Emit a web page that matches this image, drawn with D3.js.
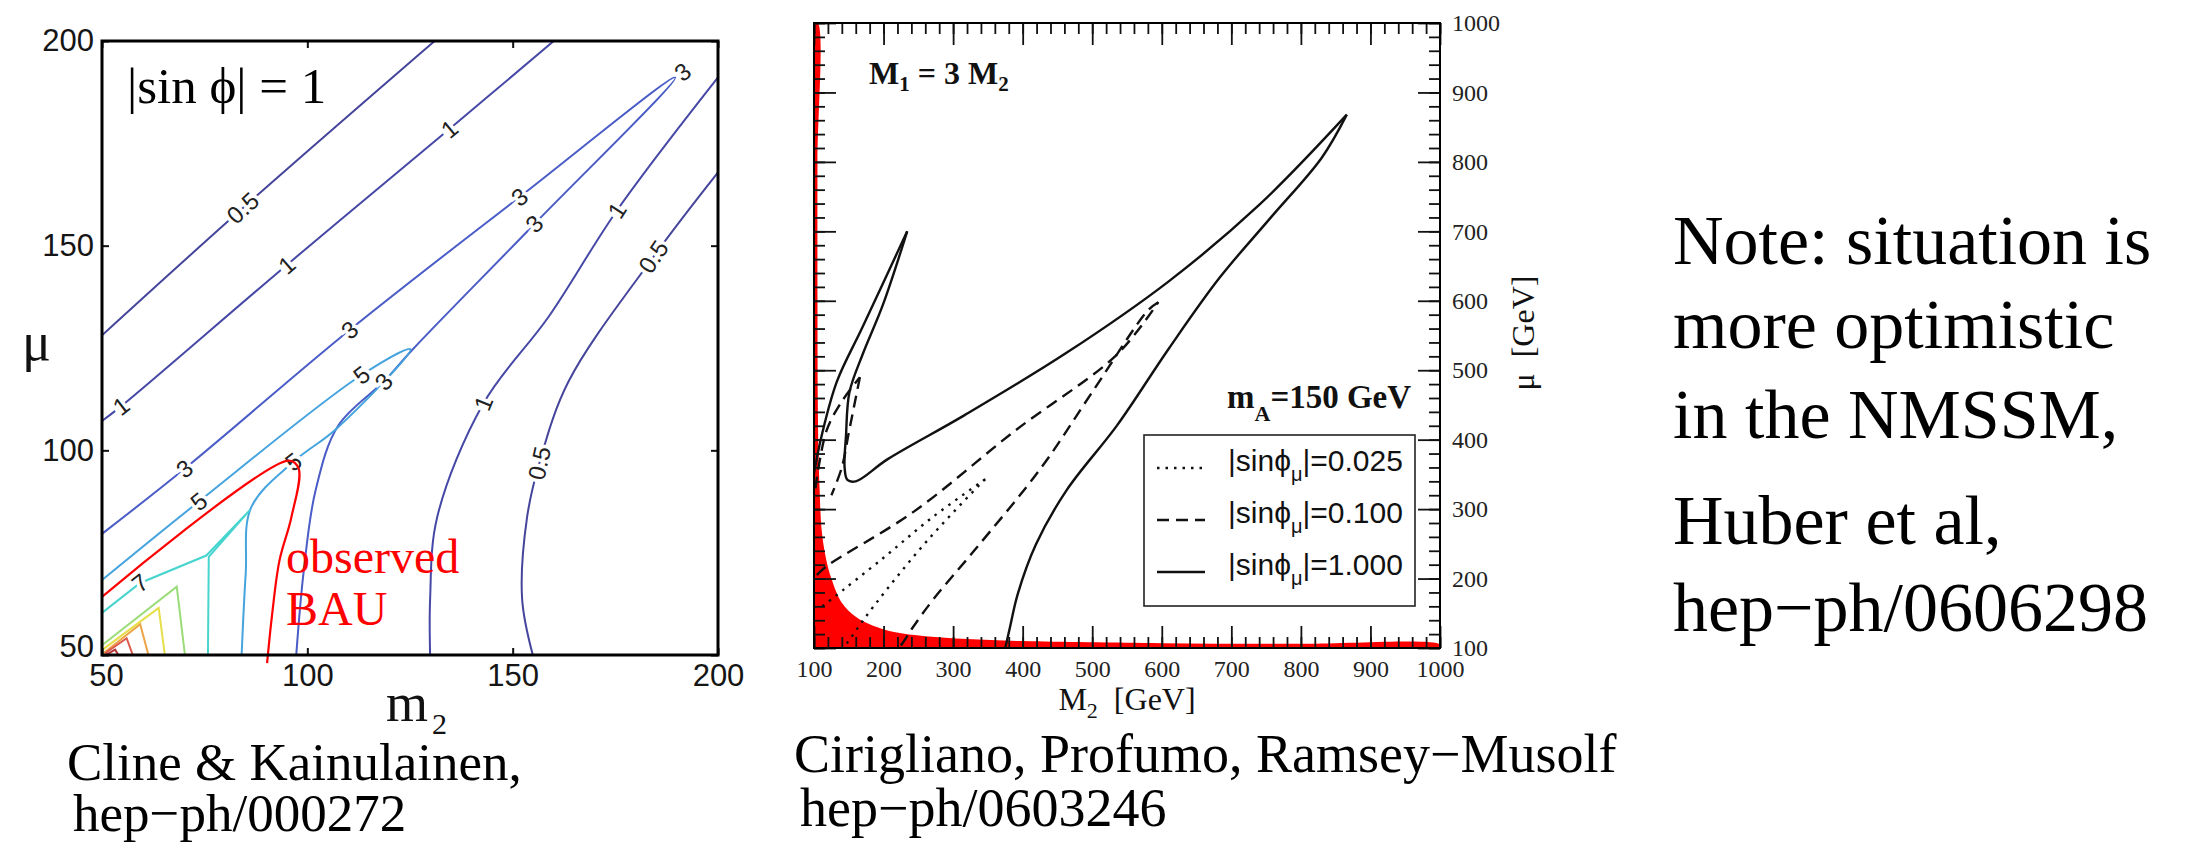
<!DOCTYPE html>
<html>
<head>
<meta charset="utf-8">
<script src="https://cdnjs.cloudflare.com/ajax/libs/d3/7.8.5/d3.min.js"></script>
<style>
  body { margin: 0; background: #fff; }
  svg { display: block; }
  .serif { font-family: "Liberation Serif", "Times New Roman", serif; }
  .sans { font-family: "Liberation Sans", Arial, sans-serif; }
</style>
</head>
<body>
<div id="chart"></div>
<script>
// ---------------- data: left panel (m2, mu) ----------------
const leftTicks = [50, 100, 150, 200];

const contour05a = [[50,128.1],[84.3,159.2],[131,200]];
const contour1a  = [[50,107.2],[54.7,110.8],[95,145.3],[134.6,178.5],[160,200]];
const contour3   = [[50,79.6],[70.1,95.5],[110.3,129.4],[151.7,161.9],[189.6,191.1],[155.3,155.3],
                    [125.7,124.7],[118.6,116.8],[107.5,106],[102,90.2],[99.1,70.3],[97.3,50]];
const contour5   = [[50,68.3],[73.6,87.5],[113.2,118.4],[125.1,124.7],[107.1,105.3],[96.6,97.2],
                    [86.3,86],[85,70],[84,50]];
const contour7   = [[50,60.3],[59.3,67.6],[75.4,74.3],[86,85.4],[76,74],[75.8,50]];
const contour9   = [[50,52.4],[68.2,66.7],[70.2,50]];
const contour11  = [[50,51.2],[63.8,61.5],[65.3,50]];
const contour13  = [[50.2,50.3],[59.3,57.5],[61.3,50]];
const contour15  = [[50.7,50.4],[56,54.1],[57.5,50]];
const contour17  = [[51.1,50.1],[53.2,51.3],[54,50]];
const contour1b  = [[129.9,50],[129.9,63.7],[131.6,83.6],[142.9,111.5],[158.8,132.7],[175.4,158.6],[200,191.1]];
const contour05b = [[154.9,50],[152.3,63.7],[153.5,83.6],[156.5,96.9],[163.6,116.8],[184.3,147.3],[200,167.9]];
const bauCurve   = [[50,64.2],[95.5,97.5],[97.9,95.5],[96.1,83.6],[93.2,73],[91.4,59.7],[90.2,48]];

// level, points, smooth
const leftContours = [
  ['0.5', contour05a, true], ['1', contour1a, true], ['3', contour3, true],
  ['5', contour5, true], ['7', contour7, false], ['9', contour9, false],
  ['11', contour11, false], ['13', contour13, false], ['15', contour15, false],
  ['17', contour17, false], ['1', contour1b, true], ['0.5', contour05b, true]
];

// contour index, m2, mu
const leftLabels = [
  [0, 84.3, 159.2],
  [1, 54.7, 110.8], [1, 95, 145.3], [1, 134.6, 178.5],
  [2, 70.1, 95.5], [2, 110.3, 129.4], [2, 151.7, 161.9], [2, 191.4, 192.4], [2, 155.3, 155.3], [2, 118.6, 116.8],
  [3, 73.6, 87.5], [3, 113.2, 118.4], [3, 96.6, 97.2],
  [4, 59.3, 67.6],
  [10, 142.9, 111.5], [10, 175.4, 158.6],
  [11, 156.5, 96.9], [11, 184.3, 147.3]
];

const levelColors = {
  '0.5': '#44459b', '1': '#4648a6', '3': '#4a5cc6', '5': '#45a3de', '7': '#47d4cf',
  '9': '#9bdc78', '11': '#e6df4a', '13': '#eda446', '15': '#dc5a4c', '17': '#b23838'
};

// ---------------- data: right panel (M2, mu) ----------------
const rightMajor = d3.range(100, 1001, 100);
const rightMinor = d3.range(100, 1001, 20);

const redEdge = [[100,1000],[105.5,1000],[105,800],[105,600],[105.5,450],[106.5,380],[108,330],[111,270],
                 [117,230],[125,200],[140,165],[160,145],[185,132],[215,123],[260,117],[320,113],
                 [400,110],[600,107],[800,106],[1000,105],[1000,100],[100,100]];

// |sin phi| = 1.000, split at the sharp tips
const solidOuter = [[100,352],[112,410],[133,484],[170,562.6],[234,700]];
const solidInner = [[234,700],[199,594],[170,523],[151,468.5],[146,406],[144,360],[148,342],[160,340],
                    [206,372],[316,435],[463,525],[610,628],[740,738],[866,868]];
const solidRight = [[866,868],[830,806],[756,719],[683,633],[610,531],[536,421],[463,327],[419,249],
                    [393,178],[382,131],[375,100]];
// |sin phi| = 0.100
const dashedLoopA = [[102,330],[118,413],[140,455],[166,490]];
const dashedLoopB = [[166,490],[158,450],[150,410],[140,360],[125,320]];
const dashedUpper = [[104,205],[118,217.6],[243,296],[390,413.6],[536,523],[595,598]];
const dashedLower = [[595,598],[580,586],[500,468.5],[426,358.7],[331,241],[272,170.6],[243,131],
                     [228,108],[222,100]];
// |sin phi| = 0.025
const dottedUpper = [[112,160],[126,171],[200,230],[270,288],[346,343]];
const dottedLower = [[346,343],[338,335],[265,257],[206,186],[170,139],[148,108],[140,100]];

const legendValues = ['0.025', '0.100', '1.000'];
const legendDash = ['2.5,6', '12,7', null];

// ---------------- svg ----------------
const W = 2211, H = 853;
const svg = d3.select('#chart').append('svg').attr('width', W).attr('height', H);
svg.append('rect').attr('width', W).attr('height', H).attr('fill', '#fff');
const defs = svg.append('defs');

// ================= left panel =================
const L = {left: 102, right: 718, top: 41, bottom: 655};
const xL = d3.scaleLinear().domain([50, 200]).range([L.left, L.right]);
const yL = d3.scaleLinear().domain([50, 200]).range([L.bottom, L.top]);

defs.append('clipPath').attr('id', 'clipL').append('rect')
    .attr('x', L.left).attr('y', L.top).attr('width', L.right - L.left).attr('height', L.bottom - L.top);

const lineL = d3.line().x(d => xL(d[0])).y(d => yL(d[1]));
const lineLs = d3.line().x(d => xL(d[0])).y(d => yL(d[1])).curve(d3.curveCatmullRom.alpha(0.5));

const gL = svg.append('g');
const contG = gL.append('g').attr('clip-path', 'url(#clipL)');

contG.selectAll('path.contour')
    .data(leftContours)
  .join('path')
    .attr('class', 'contour')
    .attr('fill', 'none')
    .attr('stroke', d => levelColors[d[0]])
    .attr('stroke-width', 2)
    .attr('d', d => (d[2] ? lineLs : lineL)(d[1]));

// label angle follows the nearest segment of its contour
function labelAngle(pts, px, py) {
  let best = Infinity, ang = 0;
  for (let i = 0; i < pts.length - 1; i++) {
    const x1 = xL(pts[i][0]), y1 = yL(pts[i][1]);
    const x2 = xL(pts[i + 1][0]), y2 = yL(pts[i + 1][1]);
    const dx = x2 - x1, dy = y2 - y1;
    const len2 = dx * dx + dy * dy || 1;
    let t = ((px - x1) * dx + (py - y1) * dy) / len2;
    t = Math.max(0, Math.min(1, t));
    const qx = x1 + t * dx, qy = y1 + t * dy;
    const dist = (px - qx) ** 2 + (py - qy) ** 2;
    if (dist < best) { best = dist; ang = Math.atan2(dy, dx) * 180 / Math.PI; }
  }
  if (ang > 90) ang -= 180;
  if (ang < -90) ang += 180;
  return ang;
}

contG.selectAll('text.clabel')
    .data(leftLabels)
  .join('text')
    .attr('class', 'clabel sans')
    .attr('text-anchor', 'middle')
    .attr('dy', '0.35em')
    .attr('font-size', 24)
    .attr('fill', '#222')
    .attr('stroke', '#fff')
    .attr('stroke-width', 7)
    .attr('paint-order', 'stroke')
    .attr('transform', d => {
      const px = xL(d[1]), py = yL(d[2]);
      return `translate(${px},${py}) rotate(${labelAngle(leftContours[d[0]][1], px, py)})`;
    })
    .text(d => leftContours[d[0]][0]);

// observed BAU curve (drawn past the bottom edge as in the original)
gL.append('path')
    .attr('fill', 'none')
    .attr('stroke', '#ff0000')
    .attr('stroke-width', 2.2)
    .attr('d', lineLs(bauCurve));

// axes with inward ticks
const axL = gL.append('g').attr('class', 'sans');
axL.append('g').attr('transform', `translate(${L.left},0)`)
    .call(d3.axisLeft(yL).tickValues(leftTicks).tickSizeInner(-7).tickSizeOuter(0).tickPadding(8));
axL.append('g').attr('transform', `translate(0,${L.bottom})`)
    .call(d3.axisBottom(xL).tickValues(leftTicks).tickSizeInner(-7).tickSizeOuter(0).tickPadding(9));
axL.append('g').attr('transform', `translate(${L.right},0)`)
    .call(d3.axisRight(yL).tickValues(leftTicks).tickSizeInner(-7).tickSizeOuter(0).tickFormat(''));
axL.append('g').attr('transform', `translate(0,${L.top})`)
    .call(d3.axisTop(xL).tickValues(leftTicks).tickSizeInner(-7).tickSizeOuter(0).tickFormat(''));
axL.selectAll('.domain').remove();
axL.selectAll('.tick line').attr('stroke', '#111').attr('stroke-width', 2);
axL.selectAll('.tick text').attr('font-size', 31).attr('fill', '#151515')
    .attr('font-family', '"Liberation Sans", Arial, sans-serif');
// the corner labels are nudged apart in the original
axL.selectAll('.tick text').filter(d => d === 50).each(function () {
  const t = d3.select(this);
  if (t.attr('x') !== null && +t.attr('x') < 0) t.attr('dy', '0.05em'); else t.attr('dx', 4);
});

gL.append('rect')
    .attr('x', L.left).attr('y', L.top)
    .attr('width', L.right - L.left).attr('height', L.bottom - L.top)
    .attr('fill', 'none').attr('stroke', '#000').attr('stroke-width', 3);

gL.append('text').attr('class', 'serif')
    .attr('x', 127).attr('y', 103).attr('font-size', 51).attr('fill', '#000')
    .text('|sin \u03d5| = 1');

gL.append('text').attr('class', 'serif')
    .attr('x', 286).attr('y', 573).attr('font-size', 48).attr('fill', '#ff0000')
    .text('observed');
gL.append('text').attr('class', 'serif')
    .attr('x', 286).attr('y', 625).attr('font-size', 48).attr('fill', '#ff0000')
    .text('BAU');

gL.append('text').attr('class', 'serif')
    .attr('x', 22).attr('y', 360).attr('font-size', 54).attr('fill', '#111')
    .text('\u03bc');
const m2Title = gL.append('text').attr('class', 'serif')
    .attr('x', 386).attr('y', 721).attr('font-size', 54).attr('fill', '#111');
m2Title.append('tspan').text('m');
m2Title.append('tspan').attr('font-size', 30).attr('dx', 4).attr('dy', 13).text('2');

gL.append('text').attr('class', 'serif')
    .attr('x', 67).attr('y', 780).attr('font-size', 53).attr('fill', '#000')
    .text('Cline & Kainulainen,');
gL.append('text').attr('class', 'serif')
    .attr('x', 73).attr('y', 831).attr('font-size', 53).attr('fill', '#000')
    .text('hep\u2212ph/000272');

// ================= right panel =================
const R = {left: 814, right: 1440, top: 23, bottom: 648};
const xR = d3.scaleLinear().domain([100, 1000]).range([R.left, R.right]);
const yR = d3.scaleLinear().domain([100, 1000]).range([R.bottom, R.top]);

defs.append('clipPath').attr('id', 'clipR').append('rect')
    .attr('x', R.left).attr('y', R.top).attr('width', R.right - R.left).attr('height', R.bottom - R.top);

const lineR = d3.line().x(d => xR(d[0])).y(d => yR(d[1])).curve(d3.curveCatmullRom.alpha(0.5));

const gR = svg.append('g');
const plotR = gR.append('g').attr('clip-path', 'url(#clipR)');

plotR.append('path')
    .attr('fill', '#ff0000')
    .attr('d', lineR(redEdge) + 'Z');

const rightCurves = [
  [solidOuter, null], [solidInner, null], [solidRight, null],
  [dashedLoopA, '12,7'], [dashedLoopB, '12,7'], [dashedUpper, '12,7'], [dashedLower, '12,7'],
  [dottedUpper, '2.5,6'], [dottedLower, '2.5,6']
];
plotR.selectAll('path.mcurve')
    .data(rightCurves)
  .join('path')
    .attr('class', 'mcurve')
    .attr('fill', 'none')
    .attr('stroke', '#111')
    .attr('stroke-width', 2.4)
    .attr('stroke-linejoin', 'round')
    .attr('stroke-dasharray', d => d[1])
    .attr('d', d => lineR(d[0]));

// ticks: major + minor on all four sides, pointing inward
const axR = gR.append('g').attr('class', 'serif');
function sideAxes(axisFn, scale, pos, size, values, labelled) {
  const a = axisFn(scale).tickValues(values).tickSizeInner(-size).tickSizeOuter(0).tickPadding(12)
      .tickFormat(labelled ? d3.format('d') : '');
  return axR.append('g').attr('transform', pos).call(a);
}
sideAxes(d3.axisBottom, xR, `translate(0,${R.bottom})`, 11, rightMinor, false);
sideAxes(d3.axisTop, xR, `translate(0,${R.top})`, 11, rightMinor, false);
sideAxes(d3.axisLeft, yR, `translate(${R.left},0)`, 11, rightMinor, false);
sideAxes(d3.axisRight, yR, `translate(${R.right},0)`, 11, rightMinor, false);
sideAxes(d3.axisBottom, xR, `translate(0,${R.bottom})`, 22, rightMajor, true);
sideAxes(d3.axisTop, xR, `translate(0,${R.top})`, 22, rightMajor, false);
sideAxes(d3.axisLeft, yR, `translate(${R.left},0)`, 22, rightMajor, false);
sideAxes(d3.axisRight, yR, `translate(${R.right},0)`, 22, rightMajor, true);
axR.selectAll('.domain').remove();
axR.selectAll('.tick line').attr('stroke', '#111').attr('stroke-width', 1.8);
axR.selectAll('.tick text').attr('font-size', 24).attr('fill', '#222')
    .attr('font-family', '"Liberation Serif", "Times New Roman", serif');

gR.append('rect')
    .attr('x', R.left).attr('y', R.top)
    .attr('width', R.right - R.left).attr('height', R.bottom - R.top)
    .attr('fill', 'none').attr('stroke', '#000').attr('stroke-width', 2);

// annotations
const m1t = gR.append('text').attr('class', 'serif')
    .attr('x', 869).attr('y', 84).attr('font-size', 32).attr('font-weight', 'bold').attr('fill', '#111');
m1t.append('tspan').text('M');
m1t.append('tspan').attr('font-size', 21).attr('dy', 7).text('1');
m1t.append('tspan').attr('dy', -7).text(' = 3 M');
m1t.append('tspan').attr('font-size', 21).attr('dy', 7).text('2');

const mat = gR.append('text').attr('class', 'serif')
    .attr('x', 1227).attr('y', 408).attr('font-size', 33).attr('font-weight', 'bold').attr('fill', '#111');
mat.append('tspan').text('m');
mat.append('tspan').attr('font-size', 22).attr('dy', 13).text('A');
mat.append('tspan').attr('dy', -13).text('=150 GeV');

// legend
const lg = gR.append('g');
lg.append('rect')
    .attr('x', 1144).attr('y', 435).attr('width', 271).attr('height', 171)
    .attr('fill', '#fff').attr('stroke', '#222').attr('stroke-width', 1.6);
const lgRow = d3.scalePoint().domain(legendValues).range([468, 572]);
lg.selectAll('line.lgs')
    .data(legendValues)
  .join('line')
    .attr('class', 'lgs')
    .attr('x1', 1157).attr('x2', 1205)
    .attr('y1', d => lgRow(d)).attr('y2', d => lgRow(d))
    .attr('stroke', '#111').attr('stroke-width', 2.4)
    .attr('stroke-dasharray', (d, i) => legendDash[i]);
const lgText = lg.selectAll('text.lgt')
    .data(legendValues)
  .join('text')
    .attr('class', 'lgt sans')
    .attr('x', 1228).attr('y', d => lgRow(d) + 3)
    .attr('font-size', 30).attr('fill', '#111');
lgText.append('tspan').text('|sin\u03d5');
lgText.append('tspan').attr('font-size', 20).attr('dy', 10).text('\u03bc');
lgText.append('tspan').attr('dy', -10).text(d => '|=' + d);

// axis titles
const xTitle = gR.append('text').attr('class', 'serif')
    .attr('x', 1127).attr('y', 710).attr('text-anchor', 'middle')
    .attr('font-size', 32).attr('fill', '#111');
xTitle.append('tspan').text('M');
xTitle.append('tspan').attr('font-size', 22).attr('dy', 8).text('2');
xTitle.append('tspan').attr('dy', -8).text('\u00a0\u00a0[GeV]');

gR.append('text').attr('class', 'serif')
    .attr('transform', 'translate(1534,333) rotate(-90)')
    .attr('text-anchor', 'middle')
    .attr('font-size', 32).attr('fill', '#111')
    .text('\u03bc\u00a0\u00a0[GeV]');

gR.append('text').attr('class', 'serif')
    .attr('x', 794).attr('y', 772).attr('font-size', 54).attr('fill', '#000')
    .text('Cirigliano, Profumo, Ramsey\u2212Musolf');
gR.append('text').attr('class', 'serif')
    .attr('x', 800).attr('y', 826).attr('font-size', 54).attr('fill', '#000')
    .text('hep\u2212ph/0603246');

// ================= note text =================
const noteLines = ['Note: situation is', 'more optimistic', 'in the NMSSM,', 'Huber et al,', 'hep\u2212ph/0606298'];
const noteBaselines = [264, 348, 438, 544, 631];
svg.append('g').selectAll('text')
    .data(noteLines)
  .join('text')
    .attr('class', 'serif')
    .attr('x', 1673)
    .attr('y', (d, i) => noteBaselines[i])
    .attr('font-size', 70)
    .attr('fill', '#000')
    .text(d => d);
</script>
</body>
</html>
